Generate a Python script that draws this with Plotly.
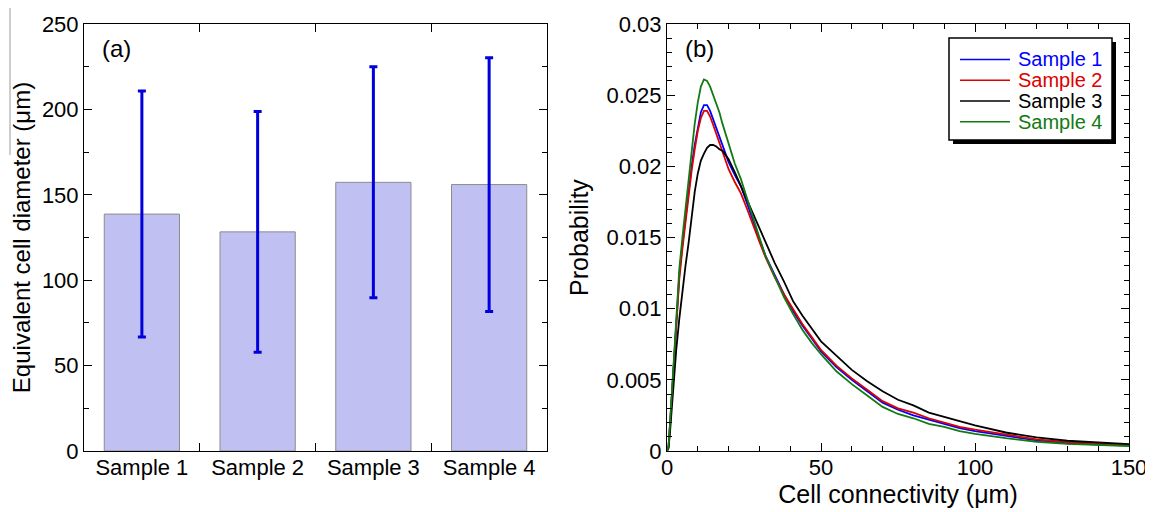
import plotly.graph_objects as go

# ---------------- data ----------------
samples = ["Sample 1", "Sample 2", "Sample 3", "Sample 4"]
mean_diam = [138.7, 128.3, 157.3, 156.0]
sd_diam = [72.0, 70.5, 67.6, 74.3]

conn_x = [0, 0.5, 1, 2, 3, 4, 5, 6, 7, 8, 9, 10, 11, 12, 13, 14, 15, 16, 17, 18, 19, 20,
          22, 24, 26, 28, 30, 32, 35, 38, 41, 44, 47, 50, 55, 60, 65, 70, 75, 80, 85, 90,
          95, 100, 110, 120, 130, 140, 150]

prob_s1 = [0, 0.0003, 0.0019, 0.0056, 0.0092, 0.0124, 0.0145, 0.0164, 0.0183, 0.0200, 0.0215,
           0.0228, 0.0238, 0.0243, 0.0243, 0.0239, 0.0233, 0.0227, 0.0221, 0.0215, 0.0209, 0.0203,
           0.0194, 0.0186, 0.0174, 0.0161, 0.0149, 0.0137, 0.0123, 0.0110, 0.0098, 0.0088, 0.0079,
           0.0070, 0.0059, 0.0050, 0.0042, 0.0034, 0.0029, 0.0025, 0.0022, 0.0019, 0.0016, 0.0014,
           0.00105, 0.00074, 0.00054, 0.00045, 0.00038]
prob_s2 = [0, 0.0003, 0.0019, 0.0055, 0.0090, 0.0121, 0.0142, 0.0161, 0.0180, 0.0197, 0.0212,
           0.0225, 0.0234, 0.0239, 0.0239, 0.0235, 0.0229, 0.0223, 0.0217, 0.0210, 0.0204, 0.0198,
           0.0189, 0.0181, 0.0170, 0.0158, 0.0147, 0.0136, 0.0122, 0.0110, 0.0099, 0.0089, 0.0080,
           0.0071, 0.0060, 0.0051, 0.0043, 0.0035, 0.0030, 0.0027, 0.0023, 0.0020, 0.0017, 0.0015,
           0.00115, 0.00082, 0.00062, 0.00050, 0.00042]
prob_s3 = [0, 0.0002, 0.0014, 0.0043, 0.0071, 0.0093, 0.0113, 0.0130, 0.0146, 0.0164, 0.0182,
           0.0195, 0.0204, 0.0209, 0.0213, 0.0215, 0.0215, 0.0214, 0.0212, 0.0211, 0.0208, 0.0205,
           0.0196, 0.0186, 0.0177, 0.0167, 0.0157, 0.0146, 0.0132, 0.0119, 0.0105, 0.0095, 0.0086,
           0.0077, 0.0067, 0.0057, 0.0049, 0.0042, 0.0036, 0.0032, 0.0027, 0.0024, 0.0021, 0.0018,
           0.0013, 0.00095, 0.00072, 0.00058, 0.00049]
prob_s4 = [0, 0.0003, 0.0020, 0.0058, 0.0095, 0.0128, 0.0150, 0.0171, 0.0192, 0.0212, 0.0230,
           0.0245, 0.0256, 0.0261, 0.0260, 0.0256, 0.0250, 0.0244, 0.0238, 0.0230, 0.0223, 0.0215,
           0.0202, 0.0191, 0.0177, 0.0163, 0.0150, 0.0137, 0.0122, 0.0108, 0.0096, 0.0085, 0.0076,
           0.0068, 0.0056, 0.0047, 0.0039, 0.0031, 0.0026, 0.0023, 0.0019, 0.0017, 0.0014, 0.0012,
           0.0009, 0.00065, 0.00050, 0.00040, 0.00035]

series_names = ["Sample 1", "Sample 2", "Sample 3", "Sample 4"]
series_vals = [prob_s1, prob_s2, prob_s3, prob_s4]
series_cols = ["#0000ff", "#dd0000", "#000000", "#137a13"]

FONT = "Arial, Liberation Sans, sans-serif"
# the page has an 8px body margin; the figure fills the window up to its right/bottom edge
OFF = 8
W, H = 1153 - OFF, 512 - OFF


def sx(v):
    """screen pixel x -> paper fraction"""
    return (v - OFF) / W


def sy(v):
    """screen pixel y -> paper fraction"""
    return 1 - (v - OFF) / H


fig = go.Figure()

fig.add_trace(go.Bar(
    x=samples, y=mean_diam, width=0.65,
    marker=dict(color="#c0c0f2", line=dict(color="#8c8c8c", width=1)),
    error_y=dict(type="data", array=sd_diam, visible=True, color="#0000dd",
                 thickness=3, width=4),
    xaxis="x", yaxis="y", showlegend=False))

for name, vals, col in zip(series_names, series_vals, series_cols):
    fig.add_trace(go.Scatter(
        x=conn_x, y=vals, mode="lines",
        line=dict(color=col, width=1.8),
        name=name, showlegend=False,
        xaxis="x2", yaxis="y2"))

ax_common = dict(showline=True, linecolor="black", linewidth=1, mirror="allticks",
                 ticks="inside", ticklen=8, tickcolor="black", tickwidth=1,
                 showgrid=False, zeroline=False, automargin=False,
                 tickfont=dict(family=FONT, size=22, color="black"))

ydom = [sy(451), sy(24)]

fig.update_layout(
    width=W, height=H,
    margin=dict(l=0, r=0, t=0, b=0),
    paper_bgcolor="white", plot_bgcolor="white",
    font=dict(family=FONT, color="black"),
    xaxis=dict(ax_common, domain=[sx(84), sx(547)], anchor="y", type="category",
               tickson="boundaries", ticklabelstandoff=-3),
    yaxis=dict(ax_common, domain=ydom, anchor="x", range=[0, 250], dtick=50,
               minor=dict(dtick=25, ticks="inside", ticklen=5, tickcolor="black"),
               title=dict(text="Equivalent cell diameter (μm)",
                          font=dict(family=FONT, size=24), standoff=5)),
    xaxis2=dict(ax_common, domain=[sx(667), sx(1129)], anchor="y2", range=[0, 150],
                dtick=50, ticklabelstandoff=-3,
                minor=dict(dtick=10, ticks="inside", ticklen=5, tickcolor="black"),
                title=dict(text="Cell connectivity (μm)",
                           font=dict(family=FONT, size=25), standoff=1)),
    yaxis2=dict(ax_common, domain=ydom, anchor="x2", range=[0, 0.03], dtick=0.005,
                minor=dict(dtick=0.001, ticks="inside", ticklen=5, tickcolor="black"),
                title=dict(text="Probability", font=dict(family=FONT, size=25),
                           standoff=10)),
    showlegend=False,
)

# ---- legend box (drop shadow, frame, samples, coloured labels) ----
fig.add_shape(type="rect", xref="paper", yref="paper",
              x0=sx(953), x1=sx(1116), y0=sy(144), y1=sy(42),
              fillcolor="black", line=dict(width=0), layer="above")
fig.add_shape(type="rect", xref="paper", yref="paper",
              x0=sx(949), x1=sx(1112), y0=sy(140), y1=sy(38),
              fillcolor="white", line=dict(color="black", width=1.5), layer="above")
row_y = [59.5, 80.3, 101, 121.8]
for name, col, ry in zip(series_names, series_cols, row_y):
    fig.add_shape(type="line", xref="paper", yref="paper",
                  x0=sx(960), x1=sx(1010), y0=sy(ry), y1=sy(ry),
                  line=dict(color=col, width=1.5), layer="above")
    fig.add_annotation(text=name, xref="paper", yref="paper",
                       x=sx(1016), y=sy(ry), xanchor="left", yanchor="middle",
                       showarrow=False,
                       font=dict(family=FONT, size=20, color=col))

# thin grey rule at the far left of the reference
fig.add_shape(type="line", xref="paper", yref="paper",
              x0=sx(10), x1=sx(10), y0=sy(8), y1=sy(155),
              line=dict(color="#9a9a9a", width=1))

fig.add_annotation(text="(a)", xref="x domain", yref="y domain", x=0.035, y=0.978,
                   xanchor="left", yanchor="top", showarrow=False,
                   font=dict(family=FONT, size=24, color="black"))
fig.add_annotation(text="(b)", xref="x2 domain", yref="y2 domain", x=0.035, y=0.978,
                   xanchor="left", yanchor="top", showarrow=False,
                   font=dict(family=FONT, size=24, color="black"))

fig.write_html("out.html")
